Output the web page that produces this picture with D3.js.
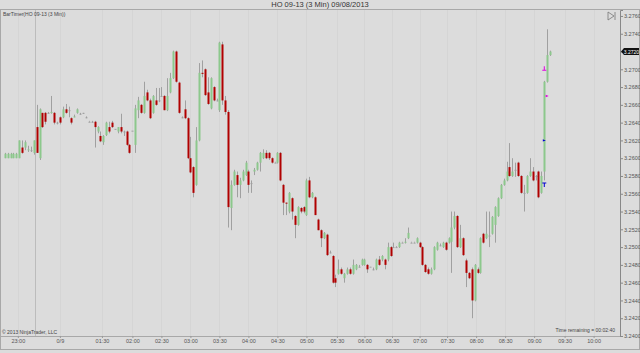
<!DOCTYPE html>
<html>
<head>
<meta charset="utf-8">
<script src="https://cdnjs.cloudflare.com/ajax/libs/d3/7.8.5/d3.min.js"></script>
<style>
  body { margin: 0; background: #dcdcdc; }
  svg { display: block; font-family: Arial, "Liberation Sans", sans-serif; }
</style>
</head>
<body>
<script>
// HO 09-13, 3 minute bars: [open, high, low, close]
var ohlc = [
  [3.2600,3.2606,3.2600,3.2605],[3.2600,3.2606,3.2600,3.2605],[3.2600,3.2606,3.2600,3.2605],[3.2600,3.2606,3.2600,3.2605],[3.2600,3.2606,3.2600,3.2605],
  [3.2600,3.2620,3.2600,3.2620],[3.2612,3.2620,3.2605,3.2606],[3.2612,3.2620,3.2609,3.2618],[3.2609,3.2614,3.2607,3.2610],[3.2609,3.2613,3.2607,3.2609],
  [3.2606,3.2620,3.2604,3.2620],[3.2635,3.2660,3.2606,3.2606],[3.2600,3.2656,3.2598,3.2655],[3.2651,3.2651,3.2634,3.2635],[3.2651,3.2652,3.2638,3.2641],
  [3.2651,3.2652,3.2650,3.2651],[3.2651,3.2670,3.2650,3.2652],[3.2651,3.2652,3.2638,3.2640],[3.2640,3.2641,3.2638,3.2640],[3.2646,3.2647,3.2638,3.2640],
  [3.2646,3.2658,3.2645,3.2655],[3.2655,3.2661,3.2650,3.2651],[3.2654,3.2658,3.2646,3.2654],[3.2645,3.2646,3.2638,3.2640],[3.2646,3.2649,3.2646,3.2647],
  [3.2651,3.2656,3.2650,3.2655],[3.2650,3.2651,3.2649,3.2650],[3.2651,3.2651,3.2650,3.2651],[3.2646,3.2647,3.2645,3.2646],[3.2641,3.2642,3.2641,3.2641],
  [3.2641,3.2642,3.2640,3.2641],[3.2641,3.2642,3.2612,3.2635],[3.2630,3.2636,3.2628,3.2635],[3.2625,3.2630,3.2618,3.2619],[3.2618,3.2626,3.2615,3.2625],
  [3.2626,3.2641,3.2625,3.2640],[3.2635,3.2641,3.2628,3.2630],[3.2640,3.2642,3.2634,3.2635],[3.2633,3.2633,3.2633,3.2633],[3.2630,3.2635,3.2628,3.2635],
  [3.2635,3.2650,3.2628,3.2630],[3.2630,3.2631,3.2625,3.2630],[3.2630,3.2631,3.2614,3.2615],[3.2615,3.2616,3.2605,3.2606],[3.2631,3.2631,3.2631,3.2631],
  [3.2615,3.2660,3.2606,3.2656],[3.2654,3.2669,3.2645,3.2665],[3.2660,3.2661,3.2650,3.2651],[3.2651,3.2686,3.2650,3.2670],[3.2674,3.2677,3.2664,3.2665],
  [3.2665,3.2667,3.2644,3.2645],[3.2651,3.2671,3.2650,3.2670],[3.2665,3.2679,3.2659,3.2660],[3.2665,3.2679,3.2663,3.2665],[3.2670,3.2680,3.2669,3.2670],
  [3.2670,3.2671,3.2654,3.2654],[3.2654,3.2690,3.2653,3.2670],[3.2674,3.2696,3.2673,3.2690],[3.2690,3.2721,3.2689,3.2720],[3.2720,3.2721,3.2685,3.2686],
  [3.2685,3.2686,3.2650,3.2651],[3.2646,3.2647,3.2645,3.2646],[3.2655,3.2665,3.2644,3.2645],[3.2645,3.2646,3.2599,3.2600],[3.2600,3.2624,3.2583,3.2584],
  [3.2590,3.2591,3.2556,3.2561],[3.2570,3.2635,3.2569,3.2620],[3.2620,3.2707,3.2619,3.2696],[3.2696,3.2710,3.2691,3.2695],[3.2700,3.2701,3.2670,3.2671],
  [3.2674,3.2691,3.2660,3.2661],[3.2656,3.2691,3.2655,3.2690],[3.2680,3.2681,3.2664,3.2665],[3.2665,3.2667,3.2664,3.2665],[3.2654,3.2731,3.2652,3.2730],
  [3.2728,3.2731,3.2660,3.2665],[3.2665,3.2670,3.2649,3.2652],[3.2652,3.2654,3.2522,3.2545],[3.2544,3.2575,3.2519,3.2570],[3.2570,3.2587,3.2569,3.2585],
  [3.2581,3.2585,3.2556,3.2570],[3.2570,3.2578,3.2555,3.2575],[3.2575,3.2587,3.2574,3.2585],[3.2581,3.2597,3.2580,3.2595],[3.2585,3.2587,3.2561,3.2570],
  [3.2572,3.2575,3.2561,3.2572],[3.2585,3.2589,3.2581,3.2587],[3.2587,3.2596,3.2586,3.2595],[3.2595,3.2607,3.2585,3.2606],[3.2600,3.2610,3.2599,3.2606],
  [3.2606,3.2609,3.2599,3.2600],[3.2606,3.2607,3.2598,3.2600],[3.2600,3.2601,3.2594,3.2595],[3.2595,3.2596,3.2595,3.2595],[3.2595,3.2607,3.2594,3.2606],
  [3.2606,3.2607,3.2574,3.2575],[3.2570,3.2571,3.2536,3.2550],[3.2550,3.2550,3.2536,3.2549],[3.2540,3.2562,3.2538,3.2561],[3.2555,3.2556,3.2531,3.2540],
  [3.2535,3.2536,3.2510,3.2525],[3.2525,3.2546,3.2524,3.2545],[3.2544,3.2545,3.2538,3.2540],[3.2545,3.2546,3.2538,3.2540],[3.2536,3.2577,3.2535,3.2575],
  [3.2575,3.2579,3.2555,3.2556],[3.2556,3.2562,3.2555,3.2561],[3.2556,3.2557,3.2536,3.2536],[3.2531,3.2532,3.2519,3.2519],[3.2519,3.2520,3.2500,3.2510],
  [3.2510,3.2517,3.2509,3.2516],[3.2514,3.2515,3.2490,3.2491],[3.2494,3.2496,3.2493,3.2494],[3.2490,3.2491,3.2459,3.2460],[3.2465,3.2469,3.2455,3.2460],
  [3.2470,3.2486,3.2469,3.2475],[3.2475,3.2477,3.2469,3.2470],[3.2465,3.2471,3.2460,3.2470],[3.2470,3.2477,3.2469,3.2475],[3.2475,3.2477,3.2469,3.2470],
  [3.2470,3.2486,3.2469,3.2480],[3.2475,3.2481,3.2474,3.2480],[3.2478,3.2480,3.2477,3.2478],[3.2480,3.2487,3.2479,3.2486],[3.2480,3.2487,3.2479,3.2486],
  [3.2480,3.2481,3.2471,3.2475],[3.2478,3.2478,3.2478,3.2478],[3.2475,3.2477,3.2474,3.2475],[3.2475,3.2487,3.2474,3.2486],[3.2486,3.2490,3.2479,3.2480],
  [3.2486,3.2491,3.2484,3.2490],[3.2486,3.2487,3.2475,3.2480],[3.2486,3.2505,3.2484,3.2500],[3.2500,3.2501,3.2489,3.2490],[3.2500,3.2505,3.2499,3.2500],
  [3.2500,3.2501,3.2500,3.2500],[3.2500,3.2506,3.2499,3.2505],[3.2505,3.2506,3.2505,3.2505],[3.2505,3.2510,3.2504,3.2506],[3.2510,3.2522,3.2509,3.2516],
  [3.2505,3.2506,3.2505,3.2505],[3.2505,3.2506,3.2505,3.2505],[3.2505,3.2511,3.2504,3.2510],[3.2505,3.2506,3.2499,3.2500],[3.2500,3.2501,3.2479,3.2480],
  [3.2480,3.2481,3.2471,3.2472],[3.2475,3.2477,3.2469,3.2470],[3.2470,3.2477,3.2469,3.2475],[3.2475,3.2501,3.2474,3.2500],[3.2497,3.2506,3.2496,3.2505],
  [3.2502,3.2504,3.2501,3.2502],[3.2500,3.2506,3.2499,3.2505],[3.2505,3.2506,3.2496,3.2497],[3.2505,3.2511,3.2504,3.2510],[3.2506,3.2540,3.2471,3.2522],
  [3.2522,3.2540,3.2520,3.2535],[3.2535,3.2536,3.2499,3.2500],[3.2500,3.2525,3.2499,3.2510],[3.2510,3.2511,3.2490,3.2491],[3.2485,3.2487,3.2455,3.2471],
  [3.2471,3.2472,3.2464,3.2465],[3.2475,3.2477,3.2420,3.2440],[3.2440,3.2481,3.2439,3.2480],[3.2475,3.2477,3.2470,3.2471],[3.2471,3.2511,3.2470,3.2510],
  [3.2515,3.2516,3.2504,3.2505],[3.2510,3.2540,3.2509,3.2515],[3.2513,3.2540,3.2500,3.2513],[3.2515,3.2535,3.2514,3.2534],[3.2525,3.2546,3.2505,3.2545],
  [3.2535,3.2556,3.2534,3.2555],[3.2555,3.2571,3.2554,3.2570],[3.2570,3.2577,3.2569,3.2575],[3.2575,3.2596,3.2574,3.2585],[3.2590,3.2617,3.2579,3.2580],
  [3.2580,3.2600,3.2579,3.2585],[3.2587,3.2595,3.2579,3.2587],[3.2595,3.2596,3.2579,3.2580],[3.2580,3.2581,3.2560,3.2561],[3.2561,3.2570,3.2540,3.2561],
  [3.2561,3.2581,3.2560,3.2580],[3.2580,3.2600,3.2579,3.2585],[3.2585,3.2590,3.2574,3.2575],[3.2580,3.2581,3.2575,3.2580],[3.2585,3.2586,3.2555,3.2556],
  [3.2561,3.2585,3.2560,3.2580],[3.2585,3.2687,3.2575,3.2686],[3.2686,3.2745,3.2685,3.2716],[3.2716,3.2721,3.2715,3.2720]
];

var timeLabels = ["23:00","0/9","01:30","02:00","02:30","03:00","03:30","04:00","04:30","05:00",
                  "05:30","06:00","06:30","07:00","07:30","08:00","08:30","09:00","09:30","10:00"];
var timeIndex  = [4.5, 19, 33.5, 44, 54, 64, 74, 84, 94, 104, 114.5, 124, 133.5, 143, 152.5, 162.5, 172.5, 182.5, 193, 203];
var priceTicks = [3.2400,3.2420,3.2440,3.2460,3.2480,3.2500,3.2520,3.2540,3.2560,3.2580,
                  3.2600,3.2620,3.2640,3.2660,3.2680,3.2700,3.2720,3.2740,3.2760];
var sessionBreak = 10.5;
var lastPrice = 3.2720;
// trade markers: [bar, price, colour, kind]
var markers = [[186, 3.2700, "#e000e0", "exit"], [187, 3.2670, "#e000e0", "dot"],
               [186, 3.2620, "#0000d0", "dot"], [186, 3.2571, "#0000d0", "entry"]];

var width = 640, height = 353;
var plotL = 1, plotR = 620, plotT = 10, plotB = 336;

var svg = d3.select("body").append("svg")
    .attr("width", width)
    .attr("height", height);

var x = d3.scaleLinear().domain([-1.3, 212.1]).range([plotL, plotR]);
var y = d3.scaleLinear().domain([3.2400, 3.27667]).range([plotB, plotT]);

svg.append("rect").attr("width", width).attr("height", height).attr("fill", "#dcdcdc");

// grid
svg.append("g").selectAll("line").data(timeIndex).enter().append("line")
    .attr("x1", function(d){ return Math.round(x(d)) + 0.5; })
    .attr("x2", function(d){ return Math.round(x(d)) + 0.5; })
    .attr("y1", plotT).attr("y2", plotB)
    .attr("stroke", "#d5d5d5");

svg.append("line")
    .attr("x1", Math.round(x(sessionBreak)) + 0.5).attr("x2", Math.round(x(sessionBreak)) + 0.5)
    .attr("y1", plotT).attr("y2", plotB)
    .attr("stroke", "#bcbcbc");

// frame
svg.append("rect").attr("x", 0.5).attr("y", 9.5).attr("width", 639).attr("height", 340)
    .attr("fill", "none").attr("stroke", "#a8a8a8");
svg.append("line").attr("x1", 0).attr("x2", plotR).attr("y1", plotB + 0.5).attr("y2", plotB + 0.5).attr("stroke", "#a8a8a8");

// candles
var candle = svg.append("g").selectAll("g").data(ohlc).enter().append("g");

candle.append("line")
    .attr("x1", function(d, i){ return Math.round(x(i)) + 0.5; })
    .attr("x2", function(d, i){ return Math.round(x(i)) + 0.5; })
    .attr("y1", function(d){ return y(d[1]); })
    .attr("y2", function(d){ return y(d[2]); })
    .attr("stroke", "#a0a0a0");

candle.append("rect")
    .attr("x", function(d, i){ return Math.round(x(i)) - 0.5; })
    .attr("width", 2)
    .attr("y", function(d){ return y(Math.max(d[0], d[3])); })
    .attr("height", function(d){ return Math.max(1, Math.abs(y(d[0]) - y(d[3]))); })
    .attr("fill", function(d){
      if (d[3] > d[0]) return "#8cc88c";
      if (d[3] < d[0]) return "#b00000";
      return "#a0a0a0";
    });

// markers
svg.append("g").selectAll("path").data(markers).enter().append("path")
    .attr("transform", function(d){ return "translate(" + x(d[0]) + "," + y(d[1]) + ")"; })
    .attr("d", function(d){
      if (d[3] == "exit") return "M-2,1.5 L2,1.5 L2,0.5 L0.5,0.5 L0.5,-3 L-0.5,-3 L-0.5,0.5 L-2,0.5 Z";
      if (d[3] == "entry") return "M-2,-1.5 L2,-1.5 L2,-0.5 L0.5,-0.5 L0.5,3 L-0.5,3 L-0.5,-0.5 L-2,-0.5 Z";
      return "M-1.5,-1.2 L1.5,0 L-1.5,1.2 Z";
    })
    .attr("fill", function(d){ return d[2]; });

// axes (the last-price box stands in for its own tick label)
var yAxis = d3.axisRight(y).tickValues(priceTicks)
    .tickFormat(function(d){ return d === lastPrice ? "" : d3.format(".4f")(d); })
    .tickSize(3);
var gy = svg.append("g").attr("transform", "translate(" + plotR + ",0)").call(yAxis);
gy.select(".domain").attr("stroke", "#888");
gy.selectAll(".tick line").attr("stroke", "#888");
gy.selectAll("text").attr("font-size", 5.5).attr("fill", "#555").attr("x", 4);

var xAxis = d3.axisBottom(x).tickValues(timeIndex).tickFormat(function(d, i){ return timeLabels[i]; }).tickSize(2);
var gx = svg.append("g").attr("transform", "translate(0," + plotB + ")").call(xAxis);
gx.select(".domain").remove();
gx.selectAll(".tick line").attr("stroke", "#999");
gx.selectAll("text").attr("font-size", 5.5).attr("fill", "#555").attr("y", 3);

// last price box
var ly = y(lastPrice);
svg.append("path")
    .attr("d", "M" + (plotR + 1) + "," + ly + " L" + (plotR + 4) + "," + (ly - 3.5) + " L639," + (ly - 3.5) + " L639," + (ly + 3.5) + " L" + (plotR + 4) + "," + (ly + 3.5) + " Z")
    .attr("fill", "#111");
svg.append("text").attr("x", 631.5).attr("y", ly + 2).attr("text-anchor", "middle")
    .attr("font-size", 5).attr("fill", "#fff")
    .text(d3.format(".4f")(lastPrice));

// texts
svg.append("text").attr("x", 320).attr("y", 7).attr("text-anchor", "middle")
    .attr("font-size", 7.5).attr("fill", "#333").text("HO 09-13 (3 Min)  09/08/2013");
svg.append("text").attr("x", 3).attr("y", 16).attr("font-size", 5).attr("fill", "#444")
    .text("BarTimer(HO 09-13 (3 Min))");
svg.append("text").attr("x", 2).attr("y", 334).attr("font-size", 5).attr("fill", "#444")
    .text("© 2013 NinjaTrader, LLC");
svg.append("text").attr("x", 615).attr("y", 332).attr("text-anchor", "end").attr("font-size", 5).attr("fill", "#444")
    .text("Time remaining = 00:02:40");

// play button
svg.append("path").attr("d", "M608,12 L614,16 L608,20 Z M615,12 L615,20")
    .attr("fill", "none").attr("stroke", "#777").attr("stroke-width", 0.8);
</script>
</body>
</html>
